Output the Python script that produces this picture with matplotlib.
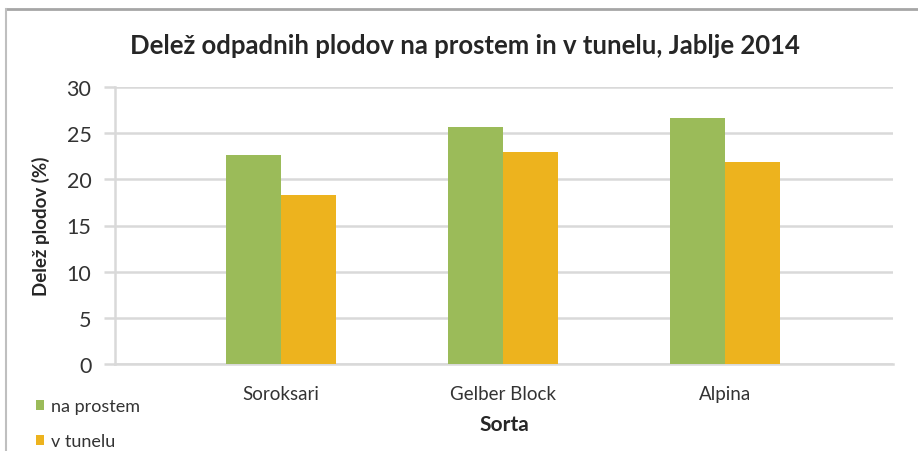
import numpy as np
import matplotlib.pyplot as plt
from matplotlib.lines import Line2D

# data
sorte = ['Soroksari', 'Gelber Block', 'Alpina']
na_prostem = [22.6, 25.7, 26.6]
v_tunelu = [18.3, 23.0, 21.9]

green = '#9BBB59'
yellow = '#EDB31E'
grid_col = '#D9D9D9'
txt = '#404040'

plt.rcParams['font.family'] = ['Lato', 'DejaVu Sans']

fig = plt.figure(figsize=(9.18, 4.52), dpi=100)
ax = fig.add_axes([115/918, 87/452, 778/918, 277/452])

x = np.arange(len(sorte))
w = 0.248
ax.bar(x - w/2, na_prostem, w, color=green, label='na prostem', zorder=3)
ax.bar(x + w/2, v_tunelu, w, color=yellow, label='v tunelu', zorder=3)

ax.set_xlim(-0.748, 2.757)
ax.set_ylim(0, 30)
ax.set_yticks(range(0, 31, 5))
ax.set_xticks(x)
ax.set_xticklabels(sorte)
ax.grid(axis='y', color=grid_col, linewidth=1.8, zorder=0)

for s in ['top', 'right']:
    ax.spines[s].set_visible(False)
ax.spines['left'].set_color(grid_col)
ax.spines['left'].set_linewidth(1.8)
ax.spines['bottom'].set_color(grid_col)
ax.spines['bottom'].set_linewidth(1.8)
ax.tick_params(axis='y', length=8, width=1.8, color=grid_col, labelsize=15.5,
               labelcolor='#333333', pad=9)
ax.tick_params(axis='x', length=0, labelsize=13.5, labelcolor='#333333', pad=15)

ax.set_ylabel('Delež plodov (%)', fontsize=13.5, fontweight='bold', color='#262626',
              labelpad=12)
ax.set_xlabel('Sorta', fontsize=15, fontweight='bold', color='#262626', labelpad=9)
fig.suptitle('Delež odpadnih plodov na prostem in v tunelu, Jablje 2014',
             x=0.507, y=0.925, fontsize=18.5, fontweight='bold', color='#262626')

fig.legend(loc='lower left', bbox_to_anchor=(20/918, -0.032), frameon=False,
           fontsize=13, handlelength=0.45, handleheight=0.5, handletextpad=0.35,
           labelspacing=1.05, labelcolor='#333333')

# outer chart frame (cropped on right/bottom)
fig.add_artist(Line2D([6/918, 1], [1 - 10/452, 1 - 10/452], transform=fig.transFigure,
                      color='#A6A6A6', linewidth=2))
fig.add_artist(Line2D([6/918, 6/918], [0, 1 - 10/452], transform=fig.transFigure,
                      color='#BFBFBF', linewidth=1.5))

fig.savefig('out.png', dpi=100)
